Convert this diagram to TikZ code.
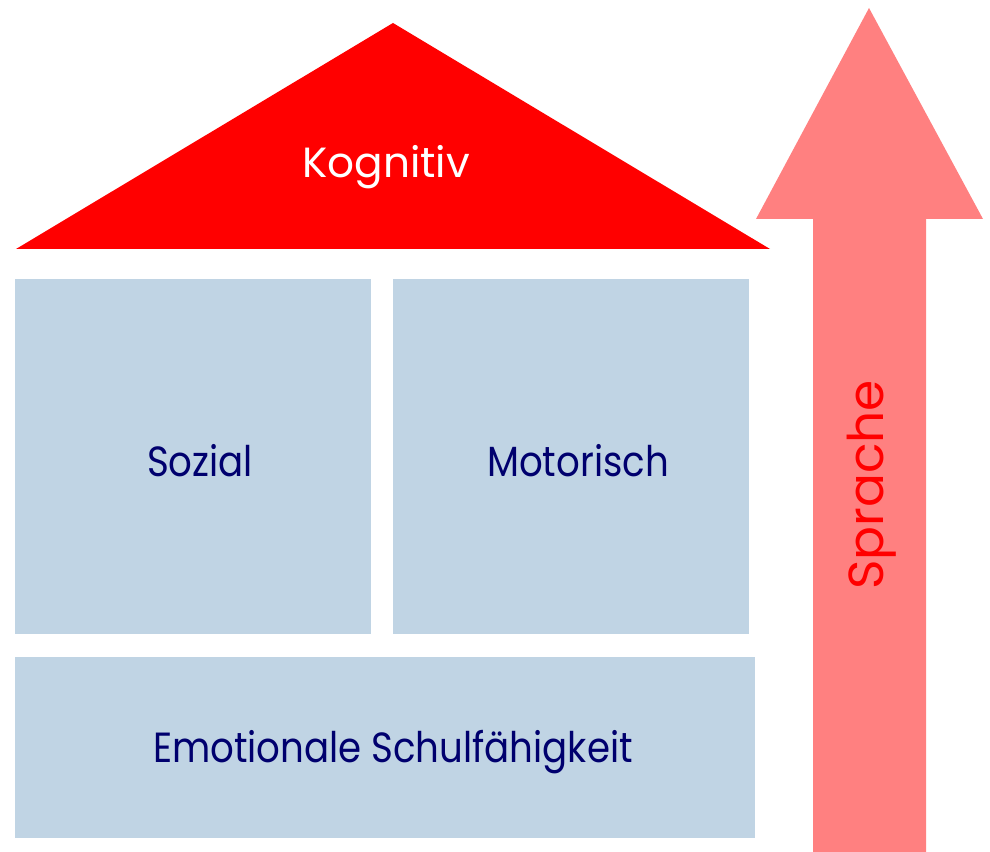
\documentclass[tikz,border=0pt]{standalone}
\usepackage{fontspec}
\setmainfont{Poppins}
\usetikzlibrary{positioning}
\definecolor{boxblue}{RGB}{192,212,228}
\definecolor{textnavy}{RGB}{0,0,110}
\definecolor{roofred}{RGB}{255,0,0}
\definecolor{arrowred}{RGB}{255,128,128}
\newcommand{\narrow}[1]{\scalebox{0.88}[1]{#1}}
\begin{document}
\begin{tikzpicture}[x=0.025cm,y=-0.025cm,
                    pillar/.style={fill=boxblue,inner sep=0pt},
                    label/.style={inner sep=0pt,font=\fontsize{30}{36}\selectfont}
                   ]
  \useasboundingbox (0,0) rectangle (990,852);
  % roof
  \coordinate (apex) at (393,23);
  \coordinate (eaveL) at (16,249);
  \coordinate (eaveR) at (770,249);
  \fill[roofred] (apex) -- (eaveR) -- (eaveL) -- cycle;
  \node[label,text=white] (kog) at (386,167) {Kognitiv};
  % pillars
  \node[pillar,minimum width=8.9cm,minimum height=8.875cm] (soz) at (193,456.5) {};
  \node[pillar,minimum width=8.9cm,minimum height=8.875cm] (mot) at (571,456.5) {};
  \node[pillar,minimum width=18.5cm,minimum height=4.525cm] (emo) at (385,747.5) {};
  \node[label,text=textnavy] (sozT) at (200,461) {\narrow{Sozial}};
  \node[label,text=textnavy] (motT) at (578,461) {\narrow{Motorisch}};
  \node[label,text=textnavy] (emoT) at (393,752) {\narrow{Emotionale Schulfähigkeit}};
  % arrow
  \fill[arrowred] (813,852) -- (813,219) -- (756,219) -- (869,8) -- (983,219)
                  -- (926,219) -- (926,852) -- cycle;
  \node[label,text=roofred,rotate=90,font=\fontsize{35}{40}\selectfont] (spr) at (872,485) {\scalebox{1.02}[1]{Sprache}};
\end{tikzpicture}
\end{document}
